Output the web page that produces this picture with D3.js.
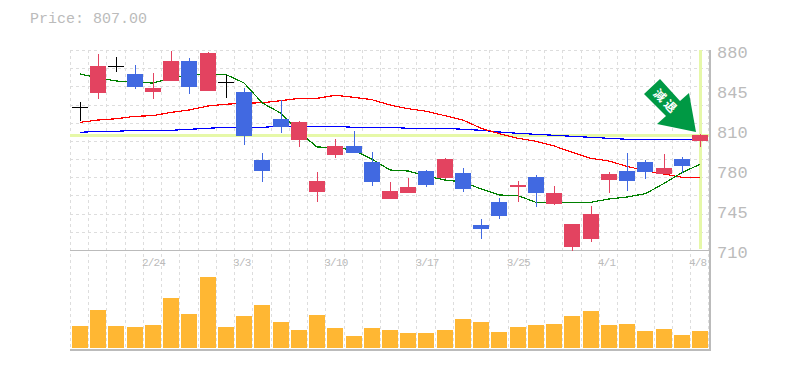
<!DOCTYPE html>
<html>
<head>
<meta charset="utf-8">
<script src="https://cdnjs.cloudflare.com/ajax/libs/d3/7.8.5/d3.min.js"></script>
<style>
html, body { margin: 0; padding: 0; background: #fff; }
text { font-family: "Liberation Mono", monospace; fill: #bbb; }
</style>
</head>
<body>
<div id="chart"></div>
<script>
var dates = ["2/19","2/20","2/21","2/22","2/24","2/25","2/26","2/27","2/28","3/3","3/4","3/5","3/6","3/7","3/10","3/11","3/12","3/13","3/14","3/17","3/18","3/19","3/21","3/24","3/25","3/26","3/27","3/28","3/31","4/1","4/2","4/3","4/4","4/7","4/8"];
var dateLabels = ["2/24","3/3","3/10","3/17","3/25","4/1","4/8"];
var priceLabels = ["880","845","810","780","745","710"];
var priceTicks = [880,846,812,778,744,710];

var opens = [831.3,843.5,866.1,859.6,844.3,853.65,870.65,845.15,852.5,844.3,786.5,821.35,803.5,759.3,790.75,798.4,784.8,753.35,758.45,777.15,771.2,775.45,731.25,750.8,763.55,772,749.1,712.55,719.35,769.5,777.15,784.8,774.6,787.35,802.65];
var closes = [831.3,866.4,866.1,848.5,847.7,870.65,848.55,877.45,852.5,806.9,777.15,814.55,818.8,768.65,798.4,792.45,767.8,760.15,763.55,765.25,787.35,761.85,727.85,738.9,765.25,758.45,758.45,732.1,740.6,774.6,768.65,776.3,779.7,781.4,807.75];
var highs = [835.8,876.6,873.8,867.25,860.5,879.15,873.2,878.3,858.75,847.7,792.45,837.5,819.65,776.3,804.35,811.15,793.3,767.8,771.2,778,788.2,779.7,736.35,754.2,768.65,773.75,764.4,732.1,747.4,776.3,792.45,786.5,791.6,789.05,808.6];
var lows = [819.6,838.4,861.3,846.9,838.4,853.65,842.6,845.15,839.2,799.25,767.8,809.45,797.55,750.8,788.2,792.45,764.4,753.35,758.45,763.55,770.35,759.3,719.35,736.35,750.8,746.55,748.25,709.15,716.8,758.45,760.15,770.35,774.6,775.45,797.55];

var maShort = [859.6,856.2,853.65,852.4,851.95,856.2,858.75,859.2,859.2,851.95,834.95,826.45,810.3,797.55,797.1,795,787.35,778,777.15,772.9,769.5,767.8,761.85,756.75,756.3,750.5,750.2,750.2,750.5,753.35,755.05,757.85,766.35,775.7,782.85];
var maMid = [818.5,820.5,821.6,823.6,824.2,827,829,832.4,833.9,834.7,835.2,836.9,838.9,838.9,841.5,839.8,837.8,833.25,830.1,827.9,824.2,820.5,813.4,808.9,805,802.4,798.4,793,788,785.65,781.1,777.4,774.6,771.8,771.8];
var maLong = [810,810.9,810.9,811.75,811.75,811.75,812.6,813.45,814.3,814.3,814.3,815.15,815.15,815.15,815.15,814.3,814.3,814.3,813.45,813.45,813.45,812.6,811.75,810.3,809.2,808.35,807.5,806.65,805.8,804.95,804.1,804.1,804.1,804.1,804.1];

var volumes = [22,38,22,21,23,50,34,71,21,32,43,26,18,33,20,12,20,18,15,15,18,29,26,16,21,23,24,32,37,23,24,17,19,13,17];

var lastPrice = 807;
var w = 785, h = 370;
var left = 70, right = 710, top1 = 50, bot1 = 250, bot2 = 350;
var hGridCount = 11;

var svg = d3.select("#chart").append("svg")
  .attr("width", w)
  .attr("height", h)
  .style("display", "block")
  .attr("shape-rendering", "crispEdges");

var x = d3.scalePoint().domain(d3.range(dates.length)).range([80, 700]);
var y = d3.scaleLinear().domain([710, 880]).range([bot1, top1]);
var yVol = d3.scaleLinear().domain([0, 98]).range([348, 250]);

// grid
svg.append("g").selectAll("line")
  .data(d3.range(dates.length + 1)).enter().append("line")
  .attr("x1", function(d) { return Math.round(left + d * x.step()) + 0.5; })
  .attr("x2", function(d) { return Math.round(left + d * x.step()) + 0.5; })
  .attr("y1", top1).attr("y2", bot2)
  .attr("stroke", "#ddd").attr("stroke-dasharray", "3,3");

svg.append("g").selectAll("line")
  .data(d3.range(hGridCount + 1)).enter().append("line")
  .attr("x1", left).attr("x2", right)
  .attr("y1", function(d) { return Math.round(top1 + d * (bot1 - top1) / hGridCount) + 0.5; })
  .attr("y2", function(d) { return Math.round(top1 + d * (bot1 - top1) / hGridCount) + 0.5; })
  .attr("stroke", "#ddd").attr("stroke-dasharray", "3,3");

// current price highlight
svg.append("line")
  .attr("x1", left).attr("x2", right)
  .attr("y1", y(lastPrice)).attr("y2", y(lastPrice))
  .attr("stroke", "#e6f8a8").attr("stroke-width", 3);
svg.append("line")
  .attr("x1", x(34) + 0.5).attr("x2", x(34) + 0.5)
  .attr("y1", top1).attr("y2", bot1 - 1)
  .attr("stroke", "#e6f8a8").attr("stroke-width", 3);

// volume
svg.append("g").selectAll("rect")
  .data(volumes).enter().append("rect")
  .attr("x", function(d, i) { return Math.round(x(i)) - 8; })
  .attr("width", 16)
  .attr("y", function(d) { return yVol(d); })
  .attr("height", function(d) { return yVol(0) - yVol(d); })
  .attr("fill", "#ffb733");

// frame
svg.append("line").attr("x1", left).attr("x2", right + 1).attr("y1", bot1 + 0.5).attr("y2", bot1 + 0.5).attr("stroke", "#bbb");
svg.append("line").attr("x1", left).attr("x2", right + 1).attr("y1", bot2).attr("y2", bot2).attr("stroke", "#bbb").attr("stroke-width", 2);
svg.append("line").attr("x1", right).attr("x2", right).attr("y1", top1).attr("y2", bot2).attr("stroke", "#bbb").attr("stroke-width", 2);

// moving averages
function maLine(vals, color) {
  svg.append("path")
    .datum(vals)
    .attr("fill", "none")
    .attr("stroke", color)
    .attr("stroke-width", 1.2)
    .attr("d", d3.line().x(function(d, i) { return x(i); }).y(function(d) { return y(d); }));
}
maLine(maLong, "#0000ff");
maLine(maMid, "#ff0000");
maLine(maShort, "#008000");

// candles
function candleColor(i) {
  if (opens[i] == closes[i]) return "#000";
  return closes[i] > opens[i] ? "#e34360" : "#4169e1";
}
var candles = svg.append("g").selectAll("g")
  .data(d3.range(dates.length)).enter().append("g");
candles.append("line")
  .attr("x1", function(i) { return Math.round(x(i)) + 0.5; })
  .attr("x2", function(i) { return Math.round(x(i)) + 0.5; })
  .attr("y1", function(i) { return y(highs[i]); })
  .attr("y2", function(i) { return y(lows[i]); })
  .attr("stroke", candleColor);
candles.filter(function(i) { return opens[i] != closes[i]; }).append("rect")
  .attr("x", function(i) { return Math.round(x(i)) - 8; })
  .attr("width", 16)
  .attr("y", function(i) { return y(Math.max(opens[i], closes[i])); })
  .attr("height", function(i) { return Math.abs(y(opens[i]) - y(closes[i])); })
  .attr("fill", candleColor);
candles.filter(function(i) { return opens[i] == closes[i]; }).append("line")
  .attr("x1", function(i) { return Math.round(x(i)) - 8; })
  .attr("x2", function(i) { return Math.round(x(i)) + 8; })
  .attr("y1", function(i) { return Math.round(y(closes[i])) + 0.5; })
  .attr("y2", function(i) { return Math.round(y(closes[i])) + 0.5; })
  .attr("stroke", "#000");

// arrow
svg.append("path")
  .attr("d", "M660,79L680,101L689,93L696,132L657,124L666,116L644,94Z")
  .attr("fill", "#009944")
  .attr("shape-rendering", "auto");
svg.append("text")
  .attr("transform", "translate(666,102) rotate(45)")
  .attr("text-anchor", "middle")
  .attr("dy", "0.35em")
  .style("font-family", "'Noto Sans CJK JP'")
  .style("font-size", "12px")
  .style("font-weight", "bold")
  .style("letter-spacing", "3px")
  .style("fill", "#fff")
  .text("減退");

// labels
svg.selectAll(".plabel")
  .data(priceLabels).enter().append("text")
  .attr("class", "plabel")
  .attr("x", 717)
  .attr("y", function(d, i) { return y(priceTicks[i]) + 8; })
  .style("font-size", "17px")
  .text(function(d) { return d; });

svg.selectAll(".dlabel")
  .data(dateLabels).enter().append("text")
  .attr("class", "dlabel")
  .attr("x", function(d) { return x(dates.indexOf(d)) - 11; })
  .attr("y", 266)
  .style("font-size", "11px")
  .style("letter-spacing", "-0.8px")
  .text(function(d) { return d; });

svg.append("text")
  .attr("x", 30)
  .attr("y", 23)
  .style("font-size", "15px")
  .text("Price: 807.00");
</script>
</body>
</html>
